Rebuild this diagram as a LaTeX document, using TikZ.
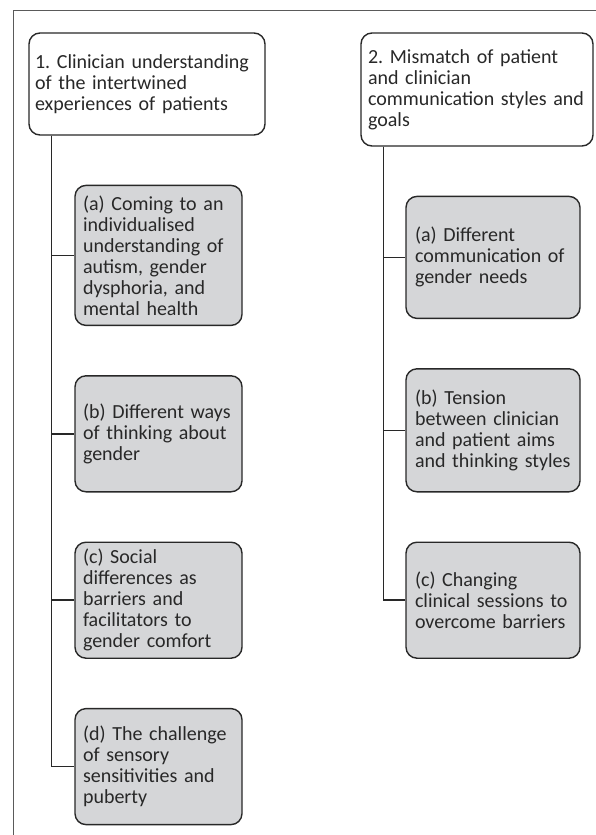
\documentclass[tikz,border=0pt]{standalone}
\usepackage{fontspec}
\setmainfont{Carlito}
\usetikzlibrary{positioning}
\definecolor{boxgray}{RGB}{213,214,216}
\definecolor{inkgray}{RGB}{40,40,40}
\definecolor{framegray}{RGB}{90,90,90}
\frenchspacing

\begin{document}
\begin{tikzpicture}[x=1pt, y=-1pt, node distance=49pt,
    every node/.style={font=\fontsize{20}{21}\selectfont, text=inkgray},
    mainbox/.style={draw=inkgray, line width=1.4pt, rounded corners=11pt, fill=white, align=left, inner ysep=4pt},
    subbox/.style={mainbox, fill=boxgray},
    link/.style={draw=inkgray, line width=1.6pt}]
    \useasboundingbox (0,0) rectangle (596,835);
    % Frame
    \draw[framegray, line width=1pt] (596,10) -- (13,10) -- (13,835);
    % Themes
    \node (theme1) [mainbox, text width=224pt, inner xsep=6pt, minimum height=102pt] at (147,84) {1. Clinician understanding\\of the intertwined\\experiences of patients};
    \node (theme2) [mainbox, text width=218pt, inner xsep=7pt, minimum height=113pt] at (477,89.5) {2. Mismatch of patient\\and clinician\\communication styles and\\goals};
    % Subthemes of theme 1
    \node (sub1a) [subbox, text width=151pt, inner xsep=8pt, minimum height=140pt, below right=49pt and 46pt of theme1.south west] {(a) Coming to an\\individualised\\understanding of\\autism, gender\\dysphoria, and\\mental health};
    \node (sub1b) [subbox, text width=151pt, inner xsep=8pt, minimum height=116pt, below=of sub1a] {(b) Different ways\\of thinking about\\gender};
    \node (sub1c) [subbox, text width=151pt, inner xsep=8pt, minimum height=116pt, below=of sub1b] {(c) Social\\differences as\\barriers and\\facilitators to\\gender comfort};
    \node (sub1d) [subbox, text width=151pt, inner xsep=8pt, minimum height=116pt, below=of sub1c] {(d) The challenge\\of sensory\\sensitivities and\\puberty};
    % Subthemes of theme 2
    \node (sub2a) [subbox, text width=156pt, inner xsep=9pt, minimum height=122pt, below right=49pt and 45pt of theme2.south west] {(a) Different\\communication of\\gender needs};
    \node (sub2b) [subbox, text width=156pt, inner xsep=9pt, minimum height=123pt, below=of sub2a] {(b) Tension\\between clinician\\and patient aims\\and thinking styles};
    \node (sub2c) [subbox, text width=156pt, inner xsep=9pt, minimum height=116pt, below=of sub2b] {(c) Changing\\clinical sessions to\\overcome barriers};
    % Connectors
    \coordinate (trunk1) at ([xshift=23pt]theme1.south west);
    \coordinate (trunk2) at ([xshift=23pt]theme2.south west);
    \draw[link] (trunk1) |- (sub1a.west);
    \draw[link] (trunk1) |- (sub1b.west);
    \draw[link] (trunk1) |- (sub1c.west);
    \draw[link] (trunk1) |- (sub1d.west);
    \draw[link] (trunk2) |- (sub2a.west);
    \draw[link] (trunk2) |- (sub2b.west);
    \draw[link] (trunk2) |- (sub2c.west);
\end{tikzpicture}
\end{document}
